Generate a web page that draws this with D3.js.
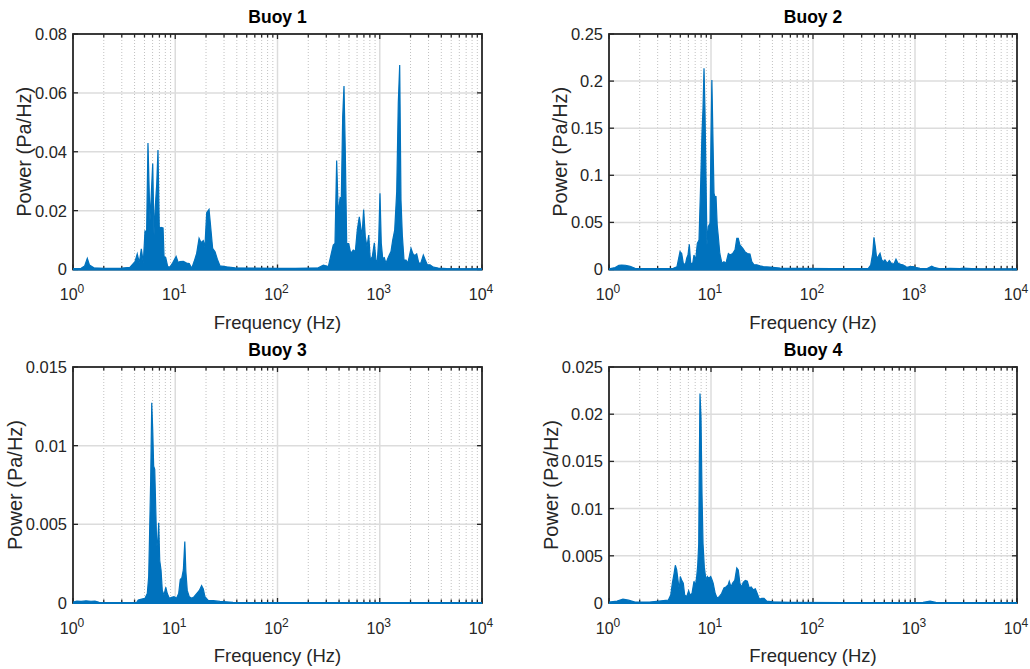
<!DOCTYPE html>
<html>
<head>
<meta charset="utf-8">
<script src="https://cdn.jsdelivr.net/npm/d3@7"></script>
<style>
  body { margin: 0; background: #fff; }
  svg { display: block; }
</style>
</head>
<body>
<svg id="fig" width="1030" height="669"></svg>
<script>
// ---- Data: power spectral density of each buoy ----
const titles = ["Buoy 1", "Buoy 2", "Buoy 3", "Buoy 4"];
const xLabel = "Frequency (Hz)";
const yLabel = "Power (Pa/Hz)";
const xTickExponents = [0, 1, 2, 3, 4];

const buoy1Freq = [1, 1.2, 1.3, 1.38, 1.45, 1.6, 2, 3, 3.6,
  4.04, 4.25, 4.45, 4.66, 4.87, 5.06, 5.25, 5.41, 5.66, 5.79,
  6.02, 6.2, 6.38, 6.59, 6.78, 6.98, 7.26, 7.6, 7.77, 8.07,
  8.44, 8.89, 9.44, 10.2, 10.7, 11.1, 12.0, 12.9, 13.7, 14.5,
  15.3, 16.2, 17.1, 17.9, 18.8, 19.5, 20.3, 21.4, 22.2, 23.2,
  24.5, 25.8, 27.4, 31.9, 38.4, 60, 100, 150, 200, 250,
  281, 314, 351, 365, 379, 393, 409, 421, 434, 447,
  460, 475, 497, 520, 551, 577, 603, 631, 651, 670,
  696, 722, 750, 780, 809, 846, 885, 918, 946, 977,
  1005, 1035, 1069, 1108, 1151, 1196, 1240, 1288, 1339, 1400,
  1465, 1518, 1567, 1613, 1662, 1727, 1806, 1877, 1944, 2022,
  2100, 2197, 2297, 2404, 2516, 2668, 2789, 2918, 3102, 3343,
  3741, 4518, 6000, 10000];
const buoy1Power = [0.0003, 0.0004, 0.0012, 0.0038, 0.0015, 0.0006, 0.0004, 0.0005, 0.0007,
  0.0027, 0.0053, 0.0023, 0.007, 0.0023, 0.0131, 0.0128, 0.043, 0.0165, 0.0233,
  0.036, 0.0117, 0.0213, 0.029, 0.0406, 0.014, 0.0143, 0.0141, 0.0044, 0.004,
  0.001, 0.0008, 0.0023, 0.0044, 0.0023, 0.0027, 0.0028, 0.0022, 0.002, 0.0004,
  0.0027, 0.0055, 0.0106, 0.0091, 0.0098, 0.0077, 0.0193, 0.0204, 0.0145, 0.0072,
  0.006, 0.0035, 0.0012, 0.0009, 0.0006, 0.0005, 0.0004, 0.0004, 0.0005, 0.0006,
  0.0015, 0.001, 0.0083, 0.0089, 0.037, 0.0185, 0.0244, 0.0245, 0.0519, 0.0623,
  0.0406, 0.0089, 0.0088, 0.0055, 0.0066, 0.0061, 0.0134, 0.0179, 0.0145, 0.0111,
  0.0204, 0.0111, 0.0077, 0.0117, 0.0032, 0.0044, 0.0091, 0.0032, 0.0027, 0.01,
  0.0259, 0.0089, 0.0037, 0.004, 0.0021, 0.0037, 0.0049, 0.0061, 0.01, 0.0134,
  0.0264, 0.0565, 0.0695, 0.0236, 0.0117, 0.0032, 0.0032, 0.0021, 0.0044, 0.0072,
  0.0055, 0.0047, 0.0053, 0.0023, 0.0021, 0.0049, 0.0032, 0.0016, 0.0016, 0.0008,
  0.0005, 0.0003, 0.0002, 0.0002];
const buoy1YTicks = [0, 0.02, 0.04, 0.06, 0.08];
const buoy1YLabels = ["0", "0.02", "0.04", "0.06", "0.08"];

const buoy2Freq = [1, 1.15, 1.25, 1.33, 1.45, 1.61, 1.8, 2.5, 3.5,
  4.27, 4.64, 4.97, 5.16, 5.35, 5.6, 5.78, 5.95, 6.13, 6.32,
  6.62, 6.81, 7.08, 7.34, 7.63, 7.93, 8.16, 8.35, 8.54, 8.73,
  8.93, 9.13, 9.41, 9.78, 10.0, 10.2, 10.5, 10.7, 10.9, 11.2,
  11.5, 11.8, 12.2, 12.8, 13.4, 14.0, 14.8, 15.4, 16.3, 17.2,
  17.9, 18.5, 19.2, 20.5, 21.5, 22.7, 24.1, 25.1, 26.4, 28.1,
  30.2, 32.6, 37.9, 47.5, 74.6, 150, 323, 349, 368, 385,
  396, 408, 421, 434, 454, 472, 489, 508, 535, 560,
  591, 623, 651, 681, 724, 768, 829, 893, 962, 1040,
  1119, 1303, 1458, 1571, 1758, 2203, 2761, 2977, 4339, 10000];
const buoy2Power = [0.0008, 0.002, 0.0045, 0.0048, 0.0045, 0.0035, 0.0012, 0.001, 0.001,
  0.0012, 0.003, 0.019, 0.017, 0.0066, 0.005, 0.0119, 0.0154, 0.0267, 0.0066,
  0.0066, 0.0154, 0.01, 0.0278, 0.0313, 0.0932, 0.1446, 0.171, 0.2136, 0.169,
  0.0985, 0.026, 0.0454, 0.049, 0.141, 0.2012, 0.1268, 0.081, 0.0773, 0.0773,
  0.0472, 0.0348, 0.017, 0.0066, 0.0083, 0.0066, 0.017, 0.0154, 0.017, 0.0208,
  0.033, 0.033, 0.026, 0.0225, 0.019, 0.017, 0.0165, 0.0083, 0.005, 0.005,
  0.0039, 0.003, 0.0026, 0.0015, 0.0012, 0.0009, 0.001, 0.0013, 0.0048, 0.0172,
  0.0342, 0.0242, 0.0119, 0.0136, 0.0172, 0.0101, 0.0083, 0.0101, 0.0066, 0.0095,
  0.006, 0.006, 0.011, 0.0066, 0.0055, 0.0048, 0.0023, 0.003, 0.003, 0.0019,
  0.0013, 0.0008, 0.0035, 0.0019, 0.0008, 0.0012, 0.001, 0.0015, 0.0005, 0.0003];
const buoy2YTicks = [0, 0.05, 0.1, 0.15, 0.2, 0.25];
const buoy2YLabels = ["0", "0.05", "0.1", "0.15", "0.2", "0.25"];

const buoy3Freq = [1, 1.09, 1.2, 1.34, 1.5, 1.64, 1.8, 2.5, 3.5,
  4.2, 4.35, 4.7, 5.06, 5.33, 5.5, 5.62, 5.75, 5.89, 6.02,
  6.15, 6.3, 6.44, 6.59, 6.74, 6.89, 7.05, 7.26, 7.47, 7.76,
  8.07, 8.36, 8.74, 9.23, 9.72, 10.3, 10.8, 11.2, 11.6, 12.0,
  12.4, 12.7, 13.1, 13.7, 14.5, 15.3, 16.2, 17.2, 18.1, 18.8,
  19.5, 21.1, 23.6, 27.4, 36.7, 60, 10000];
const buoy3Power = [0.00005, 0.00012, 0.0001, 0.00014, 0.00011, 0.00012, 0.00004, 0.00003, 0.00003,
  0.00004, 0.00019, 0.00025, 0.0003, 0.0006, 0.0017, 0.0046, 0.0078, 0.01273, 0.011,
  0.0087, 0.0085, 0.0061, 0.0036, 0.0039, 0.0051, 0.0027, 0.0021, 0.0008, 0.0005,
  0.001, 0.0006, 0.0003, 0.00036, 0.0004, 0.0003, 0.0006, 0.0015, 0.0016, 0.0021,
  0.0039, 0.002, 0.0008, 0.0004, 0.0003, 0.0004, 0.0006, 0.0008, 0.0011, 0.0009,
  0.0004, 0.00015, 0.00015, 0.0001, 0.00004, 0.00002, 0.00002];
const buoy3YTicks = [0, 0.005, 0.01, 0.015];
const buoy3YLabels = ["0", "0.005", "0.01", "0.015"];

const buoy4Freq = [1, 1.2, 1.37, 1.55, 1.8, 2.5,
  3.41, 3.81, 4.03, 4.18, 4.34, 4.47, 4.61, 4.75, 4.89, 5.0,
  5.16, 5.35, 5.52, 5.78, 6.04, 6.22, 6.51, 6.81, 7.02, 7.24,
  7.41, 7.58, 7.68, 7.8, 7.98, 8.16, 8.35, 8.6, 8.93, 9.2,
  9.49, 9.93, 10.2, 10.5, 11.0, 11.5, 12.1, 12.7, 13.4, 14.0,
  14.7, 15.1, 15.7, 16.3, 17.1, 17.9, 18.5, 19.2, 20.0, 20.7,
  21.7, 22.7, 23.7, 24.8, 26.0, 27.2, 28.4, 29.8, 31.4, 33.1,
  35.2, 40.8, 59.5, 200, 1200, 1403, 1600, 10000];
const buoy4Power = [0.0001, 0.0002, 0.0004, 0.0003, 0.0001, 0.0001,
  0.00025, 0.0003, 0.00085, 0.0021, 0.0031, 0.004, 0.0035, 0.0024, 0.0014, 0.0028,
  0.0024, 0.0021, 0.00085, 0.00067, 0.0013, 0.00085, 0.001, 0.0023, 0.0018, 0.0028,
  0.004, 0.0063, 0.0148, 0.0222, 0.0197, 0.0116, 0.0063, 0.0038, 0.0024, 0.0028,
  0.0026, 0.0028, 0.0025, 0.0021, 0.001, 0.0005, 0.0007, 0.001, 0.0016, 0.0017,
  0.0019, 0.0023, 0.0017, 0.0021, 0.0024, 0.0037, 0.0035, 0.0021, 0.0017, 0.0022,
  0.0024, 0.0023, 0.0016, 0.0017, 0.0014, 0.0015, 0.001, 0.0004, 0.0005, 0.0005,
  0.0002, 0.00012, 0.00008, 0.00005, 0.00006, 0.0002, 0.00006, 0.00003];
const buoy4YTicks = [0, 0.005, 0.01, 0.015, 0.02, 0.025];
const buoy4YLabels = ["0", "0.005", "0.01", "0.015", "0.02", "0.025"];

// ---- Layout: plot boxes of the 2x2 grid ----
const boxes = [
  { left: 73,  right: 482,  top: 34,  bottom: 269.5 },
  { left: 609, right: 1017, top: 34,  bottom: 269.5 },
  { left: 73,  right: 482,  top: 367, bottom: 603 },
  { left: 609, right: 1017, top: 367, bottom: 603 }
];

const panels = [
  { title: titles[0], freq: buoy1Freq, power: buoy1Power, yTicks: buoy1YTicks, yLabels: buoy1YLabels },
  { title: titles[1], freq: buoy2Freq, power: buoy2Power, yTicks: buoy2YTicks, yLabels: buoy2YLabels },
  { title: titles[2], freq: buoy3Freq, power: buoy3Power, yTicks: buoy3YTicks, yLabels: buoy3YLabels },
  { title: titles[3], freq: buoy4Freq, power: buoy4Power, yTicks: buoy4YTicks, yLabels: buoy4YLabels }
];

const FONT = "'Liberation Sans', Arial, Helvetica, sans-serif";
const INK = "#262626";
const LINE = "#0072BD";

const svg = d3.select("#fig");
const defs = svg.append("defs");

panels.forEach((p, i) => {
  const b = boxes[i];
  const x = d3.scaleLog().domain([1, 1e4]).range([b.left, b.right]);
  const y = d3.scaleLinear().domain([0, p.yTicks[p.yTicks.length - 1]]).range([b.bottom, b.top]);
  const g = svg.append("g");

  // minor decade positions 2..9 x 10^k
  const minorTicks = [];
  [1, 10, 100, 1000].forEach(d => { for (let m = 2; m <= 9; m++) minorTicks.push(m * d); });
  const majorTicks = xTickExponents.map(e => Math.pow(10, e));

  // minor grid (dotted)
  g.append("g").selectAll("line").data(minorTicks).join("line")
    .attr("x1", d => x(d)).attr("x2", d => x(d))
    .attr("y1", b.top).attr("y2", b.bottom)
    .attr("stroke", "#c2c2c2").attr("stroke-width", 1)
    .attr("stroke-dasharray", "1,2");

  // major grid (solid)
  g.append("g").selectAll("line").data(majorTicks.slice(1, -1)).join("line")
    .attr("x1", d => x(d)).attr("x2", d => x(d))
    .attr("y1", b.top).attr("y2", b.bottom)
    .attr("stroke", "#dcdcdc").attr("stroke-width", 1.5);
  g.append("g").selectAll("line").data(p.yTicks.slice(1, -1)).join("line")
    .attr("x1", b.left).attr("x2", b.right)
    .attr("y1", d => y(d)).attr("y2", d => y(d))
    .attr("stroke", "#dcdcdc").attr("stroke-width", 1.5);

  // ticks on all four sides, pointing inward
  const tk = g.append("g").attr("stroke", INK).attr("stroke-width", 1.3);
  minorTicks.forEach(d => {
    tk.append("line").attr("x1", x(d)).attr("x2", x(d)).attr("y1", b.bottom).attr("y2", b.bottom - 3.5);
    tk.append("line").attr("x1", x(d)).attr("x2", x(d)).attr("y1", b.top).attr("y2", b.top + 3.5);
  });
  majorTicks.forEach(d => {
    tk.append("line").attr("x1", x(d)).attr("x2", x(d)).attr("y1", b.bottom).attr("y2", b.bottom - 5);
    tk.append("line").attr("x1", x(d)).attr("x2", x(d)).attr("y1", b.top).attr("y2", b.top + 5);
  });
  p.yTicks.forEach(d => {
    tk.append("line").attr("x1", b.left).attr("x2", b.left + 5).attr("y1", y(d)).attr("y2", y(d));
    tk.append("line").attr("x1", b.right).attr("x2", b.right - 5).attr("y1", y(d)).attr("y2", y(d));
  });

  // box
  g.append("rect")
    .attr("x", b.left).attr("y", b.top)
    .attr("width", b.right - b.left).attr("height", b.bottom - b.top)
    .attr("fill", "none").attr("stroke", INK).attr("stroke-width", 1.8);

  // spectrum
  const clipId = "clip" + i;
  defs.append("clipPath").attr("id", clipId).append("rect")
    .attr("x", b.left).attr("y", b.top)
    .attr("width", b.right - b.left).attr("height", b.bottom - b.top + 1.5);

  const pts = p.freq.map((f, k) => [f, p.power[k]]);
  const area = d3.area()
    .x(d => x(d[0])).y0(y(0)).y1(d => y(d[1]));
  const line = d3.line()
    .x(d => x(d[0])).y(d => y(d[1]));
  const dg = g.append("g").attr("clip-path", `url(#${clipId})`);
  dg.append("path").datum(pts).attr("d", area).attr("fill", LINE);
  dg.append("path").datum(pts).attr("d", line)
    .attr("fill", "none").attr("stroke", LINE).attr("stroke-width", 1.2)
    .attr("stroke-linejoin", "miter");
  dg.append("line")
    .attr("x1", b.left).attr("x2", b.right)
    .attr("y1", y(0)).attr("y2", y(0))
    .attr("stroke", LINE).attr("stroke-width", 2.2);

  // y tick labels
  const yl = g.append("g").selectAll("text").data(p.yTicks).join("text")
    .attr("x", b.left - 6).attr("y", d => y(d)).attr("dy", "0.36em")
    .attr("text-anchor", "end")
    .attr("font-family", FONT).attr("font-size", 16.5).attr("fill", INK)
    .text((d, k) => p.yLabels[k]);
  let tickLeft = b.left - 6;
  yl.each(function () { tickLeft = Math.min(tickLeft, this.getBBox().x); });

  // x tick labels 10^k
  const xl = g.append("g");
  xTickExponents.forEach(e => {
    const t = xl.append("text")
      .attr("x", x(Math.pow(10, e)) - 1).attr("y", b.bottom + 30.5)
      .attr("text-anchor", "middle")
      .attr("font-family", FONT).attr("font-size", 16).attr("fill", INK);
    t.append("tspan").text("10");
    t.append("tspan").attr("font-size", 12).attr("dy", -7).text(String(e));
  });

  // axis titles
  g.append("text")
    .attr("x", (b.left + b.right) / 2).attr("y", b.bottom + 59)
    .attr("text-anchor", "middle")
    .attr("font-family", FONT).attr("font-size", 18.5).attr("fill", INK)
    .text(xLabel);
  g.append("text")
    .attr("transform", `translate(${tickLeft - 4},${(b.top + b.bottom) / 2}) rotate(-90)`)
    .attr("text-anchor", "middle")
    .attr("font-family", FONT).attr("font-size", 20).attr("fill", INK)
    .text(yLabel);

  // panel title
  g.append("text")
    .attr("x", (b.left + b.right) / 2).attr("y", b.top - 11)
    .attr("text-anchor", "middle")
    .attr("font-family", FONT).attr("font-size", 17.5).attr("font-weight", "bold")
    .attr("fill", "#000")
    .text(p.title);
});
</script>
</body>
</html>
